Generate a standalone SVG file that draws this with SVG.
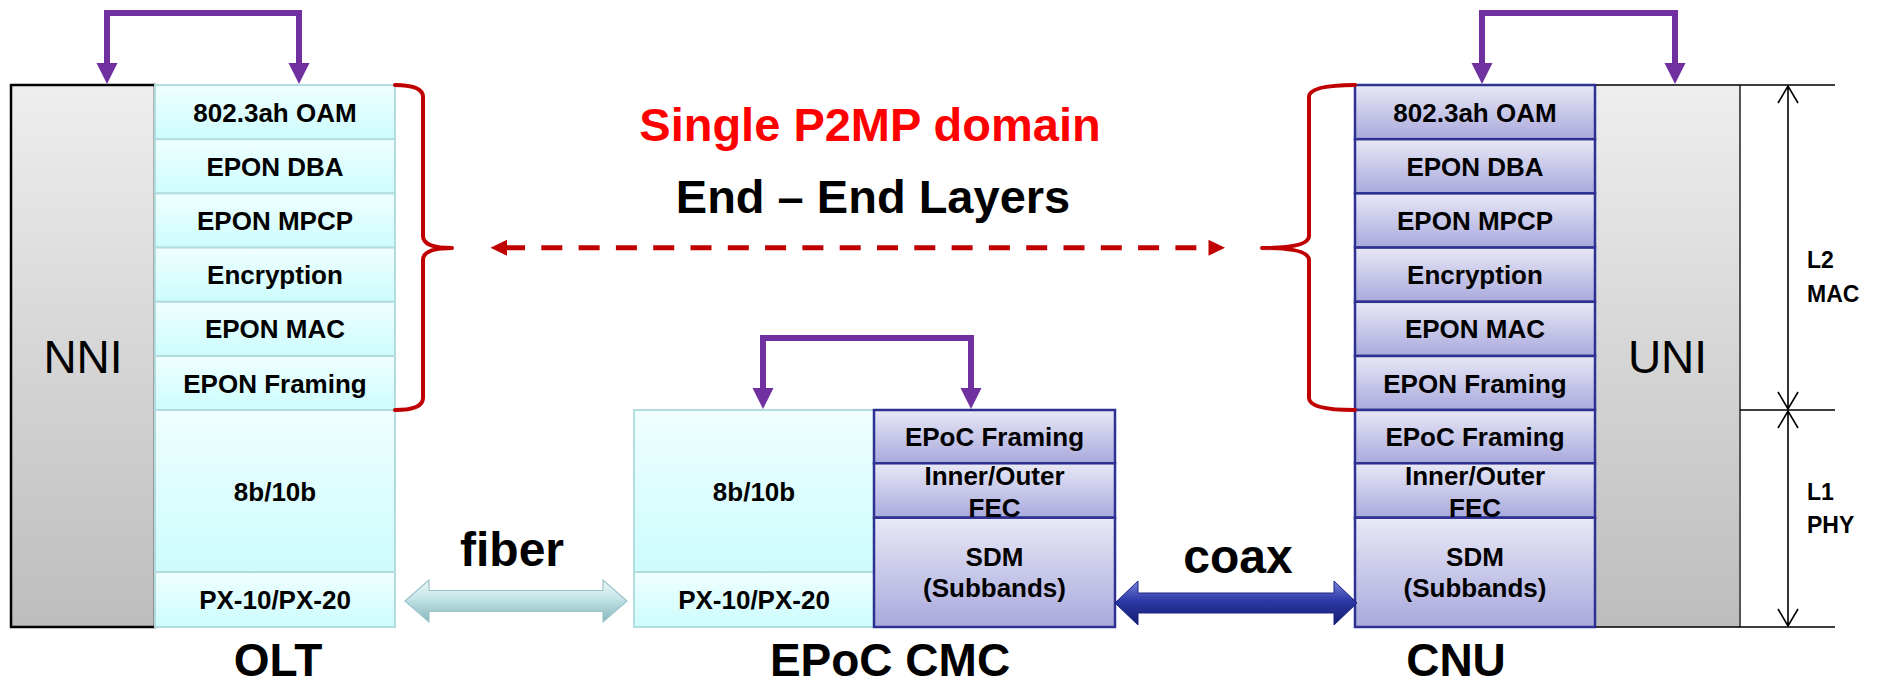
<svg xmlns="http://www.w3.org/2000/svg" width="1883" height="686" viewBox="0 0 1883 686">
<defs>
<linearGradient id="gCyan" x1="0" y1="0" x2="0" y2="1"><stop offset="0" stop-color="#F0FFFF"/><stop offset="1" stop-color="#CCFCFC"/></linearGradient>
<linearGradient id="gBlue" x1="0" y1="0" x2="0" y2="1"><stop offset="0" stop-color="#E8E8F6"/><stop offset="1" stop-color="#A9A9DD"/></linearGradient>
<linearGradient id="gGrey" x1="0" y1="0" x2="0" y2="1"><stop offset="0" stop-color="#EEEEEE"/><stop offset="1" stop-color="#BDBDBD"/></linearGradient>
<linearGradient id="gFiber" x1="0" y1="0" x2="0" y2="1"><stop offset="0" stop-color="#EEF9F9"/><stop offset="0.45" stop-color="#C4E4E6"/><stop offset="1" stop-color="#86B4BA"/></linearGradient>
<linearGradient id="gCoax" x1="0" y1="0" x2="0" y2="1"><stop offset="0" stop-color="#7482D8"/><stop offset="0.45" stop-color="#2C38A6"/><stop offset="1" stop-color="#141B6E"/></linearGradient>
<style>
.cy{fill:url(#gCyan);stroke:#B2DCDF;stroke-width:2}
.bl{fill:url(#gBlue);stroke:#2E3192;stroke-width:2.5}
.lay{font-family:"Liberation Sans",Arial,sans-serif;font-weight:bold;font-size:26px;text-anchor:middle;fill:#000}
.big{font-family:"Liberation Sans",Arial,sans-serif;font-size:46px;text-anchor:middle;fill:#000}
.lbl{font-family:"Liberation Sans",Arial,sans-serif;font-weight:bold;font-size:46px;text-anchor:middle;fill:#000}
.dim{font-family:"Liberation Sans",Arial,sans-serif;font-weight:bold;font-size:23px;fill:#000}
.pu{fill:none;stroke:#7030A0;stroke-width:6;stroke-linejoin:miter}
.puh{fill:#7030A0}
.brace{fill:none;stroke:#C00000;stroke-width:4;stroke-linecap:round;stroke-linejoin:round}
.thin{fill:none;stroke:#000;stroke-width:1.6}
</style>
</defs>
<rect width="1883" height="686" fill="#fff"/>

<g id="olt">
<rect x="11" y="85" width="144" height="542" fill="url(#gGrey)" stroke="#000" stroke-width="2.5"/>
<text class="big" x="83" y="373">NNI</text>
<rect class="cy" x="155" y="85" width="240" height="54.2"/>
<rect class="cy" x="155" y="139.2" width="240" height="54.2"/>
<rect class="cy" x="155" y="193.4" width="240" height="54.2"/>
<rect class="cy" x="155" y="247.6" width="240" height="54.2"/>
<rect class="cy" x="155" y="301.8" width="240" height="54.2"/>
<rect class="cy" x="155" y="356" width="240" height="54"/>
<rect class="cy" x="155" y="410" width="240" height="162"/>
<rect class="cy" x="155" y="572" width="240" height="55"/>
<text class="lay" x="275" y="121.5">802.3ah OAM</text>
<text class="lay" x="275" y="175.7">EPON DBA</text>
<text class="lay" x="275" y="229.9">EPON MPCP</text>
<text class="lay" x="275" y="284.1">Encryption</text>
<text class="lay" x="275" y="338.3">EPON MAC</text>
<text class="lay" x="275" y="392.5">EPON Framing</text>
<text class="lay" x="275" y="500.5">8b/10b</text>
<text class="lay" x="275" y="609">PX-10/PX-20</text>
<text class="lbl" x="278" y="676">OLT</text>
</g>

<g id="cmc">
<rect class="cy" x="634" y="410" width="240" height="162"/>
<rect class="cy" x="634" y="572" width="240" height="55"/>
<text class="lay" x="754" y="500.5">8b/10b</text>
<text class="lay" x="754" y="609">PX-10/PX-20</text>
<rect class="bl" x="874" y="410" width="241" height="53.3"/>
<rect class="bl" x="874" y="463.3" width="241" height="54.4"/>
<rect class="bl" x="874" y="517.7" width="241" height="109.3"/>
<text class="lay" x="994.5" y="445.5">EPoC Framing</text>
<text class="lay" x="994.5" y="485">Inner/Outer</text>
<text class="lay" x="994.5" y="516.5">FEC</text>
<text class="lay" x="994.5" y="566">SDM</text>
<text class="lay" x="994.5" y="597">(Subbands)</text>
<text class="lbl" x="890" y="676">EPoC CMC</text>
</g>

<g id="cnu">
<rect x="1595" y="85" width="145" height="542" fill="url(#gGrey)" stroke="none"/>
<path d="M1740,85 V627" stroke="#555" stroke-width="2" fill="none"/>
<text class="big" x="1667.5" y="373">UNI</text>
<rect class="bl" x="1355" y="85" width="240" height="54.2"/>
<rect class="bl" x="1355" y="139.2" width="240" height="54.2"/>
<rect class="bl" x="1355" y="193.4" width="240" height="54.2"/>
<rect class="bl" x="1355" y="247.6" width="240" height="54.2"/>
<rect class="bl" x="1355" y="301.8" width="240" height="54.2"/>
<rect class="bl" x="1355" y="356" width="240" height="54"/>
<rect class="bl" x="1355" y="410" width="240" height="53.3"/>
<rect class="bl" x="1355" y="463.3" width="240" height="54.4"/>
<rect class="bl" x="1355" y="517.7" width="240" height="109.3"/>
<text class="lay" x="1475" y="121.5">802.3ah OAM</text>
<text class="lay" x="1475" y="175.7">EPON DBA</text>
<text class="lay" x="1475" y="229.9">EPON MPCP</text>
<text class="lay" x="1475" y="284.1">Encryption</text>
<text class="lay" x="1475" y="338.3">EPON MAC</text>
<text class="lay" x="1475" y="392.5">EPON Framing</text>
<text class="lay" x="1475" y="445.5">EPoC Framing</text>
<text class="lay" x="1475" y="485">Inner/Outer</text>
<text class="lay" x="1475" y="516.5">FEC</text>
<text class="lay" x="1475" y="566">SDM</text>
<text class="lay" x="1475" y="597">(Subbands)</text>
<text class="lbl" x="1456" y="676">CNU</text>
</g>

<g id="layers">
<path class="thin" d="M1596,85 H1835 M1740,410 H1835 M1596,627 H1835"/>
<path class="thin" d="M1788,86 V409 M1778,103 L1788,86 L1798,103 M1778,392 L1788,409 L1798,392"/>
<path class="thin" d="M1788,411 V626 M1778,428 L1788,411 L1798,428 M1778,609 L1788,626 L1798,609"/>
<text class="dim" x="1807" y="268">L2</text>
<text class="dim" x="1807" y="302">MAC</text>
<text class="dim" x="1807" y="500">L1</text>
<text class="dim" x="1807" y="533">PHY</text>
</g>

<g id="domain">
<text x="870" y="141" font-family="Liberation Sans, Arial, sans-serif" font-weight="bold" font-size="47" fill="#FF0000" text-anchor="middle">Single P2MP domain</text>
<text x="873" y="213" font-family="Liberation Sans, Arial, sans-serif" font-weight="bold" font-size="47" fill="#000" text-anchor="middle">End – End Layers</text>
</g>

<g id="connectors">
<path class="brace" d="M395,85 Q423,85 423,97 V236 Q423,248 452,248 Q423,248 423,260 V398 Q423,410 395,410"/>
<path class="brace" d="M1355,85 Q1309,85 1309,97 V236 Q1309,248 1262,248 Q1309,248 1309,260 V398 Q1309,410 1355,410"/>
<line x1="504" y1="247.7" x2="1212" y2="247.7" stroke="#C00000" stroke-width="5" stroke-dasharray="21 16.3"/>
<polygon points="490.5,247.7 507,239.7 507,255.7" fill="#C00000"/>
<polygon points="1225,247.7 1208.5,239.7 1208.5,255.7" fill="#C00000"/>

<path class="pu" d="M107,64 V13 H299 V64"/>
<polygon class="puh" points="96.5,63 117.5,63 107,84"/>
<polygon class="puh" points="288.5,63 309.5,63 299,84"/>
<path class="pu" d="M1482,64 V13 H1675 V64"/>
<polygon class="puh" points="1471.5,63 1492.5,63 1482,84"/>
<polygon class="puh" points="1664.5,63 1685.5,63 1675,84"/>
<path class="pu" d="M763,389 V338 H971 V389"/>
<polygon class="puh" points="752.5,388 773.5,388 763,409"/>
<polygon class="puh" points="960.5,388 981.5,388 971,409"/>

<polygon points="405,601 429,580 429,590.5 603,590.5 603,580 627,601 603,622 603,611.5 429,611.5 429,622" fill="url(#gFiber)" stroke="#9CC4C9" stroke-width="1.2"/>
<text x="512" y="566" font-family="Liberation Sans, Arial, sans-serif" font-weight="bold" font-size="48" text-anchor="middle">fiber</text>
<polygon points="1115,603 1138,581 1138,593 1334,593 1334,581 1357,603 1334,625 1334,613 1138,613 1138,625" fill="url(#gCoax)" stroke="#1A2280" stroke-width="1"/>
<text x="1238" y="573" font-family="Liberation Sans, Arial, sans-serif" font-weight="bold" font-size="48" text-anchor="middle">coax</text>
</g>
</svg>
